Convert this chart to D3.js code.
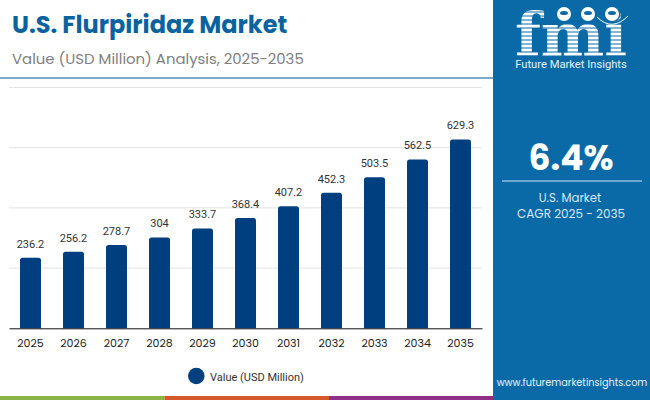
<!DOCTYPE html>
<html>
<head>
    <title>U.S. Flurpiridaz Market</title>
    <script src="https://d3js.org/d3.v7.min.js"></script>
    <style>
        html, body { margin: 0; padding: 0; background: #fff; }
        svg { display: block; font-family: Poppins, "Open Sans", Lato, sans-serif; }
    </style>
</head>
<body>
    <svg id="chart" width="650" height="400"></svg>
    <script>
        // Chart data
        var years = ["2025", "2026", "2027", "2028", "2029", "2030", "2031", "2032", "2033", "2034", "2035"];
        var values = [236.2, 256.2, 278.7, 304, 333.7, 368.4, 407.2, 452.3, 503.5, 562.5, 629.3];
        var gridTicks = [0, 200, 400, 600, 800];

        var svg = d3.select("#chart");

        var x = d3.scaleBand().domain(years).range([9, 482]).paddingInner(0.512).paddingOuter(0.256);
        var y = d3.scaleLinear().domain([0, 800]).range([328.3, 87.5]);

        // Gridlines
        svg.selectAll(".grid").data(gridTicks.slice(1)).enter().append("line")
            .attr("x1", 9).attr("x2", 482)
            .attr("y1", function(d) { return y(d); })
            .attr("y2", function(d) { return y(d); })
            .attr("stroke", "#e4e4e4").attr("stroke-width", 1);

        // Bars, rounded at the top only
        function barPath(d, i) {
            var x0 = x(years[i]), x1 = x0 + x.bandwidth(), top = y(d) + 0.6, r = 2.5;
            var p = d3.path();
            p.moveTo(x0, y(0));
            p.lineTo(x0, top + r);
            p.arcTo(x0, top, x0 + r, top, r);
            p.lineTo(x1 - r, top);
            p.arcTo(x1, top, x1, top + r, r);
            p.lineTo(x1, y(0));
            p.closePath();
            return p.toString();
        }
        svg.selectAll(".bar").data(values).enter().append("path")
            .attr("d", barPath)
            .attr("fill", "#003f7f");

        // Value labels
        svg.selectAll(".val").data(values).enter().append("text")
            .attr("x", function(d, i) { return x(years[i]) + x.bandwidth() / 2; })
            .attr("y", function(d) { return y(d) - 9.5; })
            .attr("text-anchor", "middle")
            .attr("font-family", "Roboto, sans-serif")
            .attr("font-size", 11).attr("fill", "#333")
            .text(function(d) { return d; });

        // X axis
        var xAxis = svg.append("g").attr("transform", "translate(0,328.3)")
            .call(d3.axisBottom(x).tickSize(0).tickPadding(11));
        xAxis.select(".domain").attr("stroke", "#111").attr("stroke-width", 1);
        xAxis.selectAll("text").attr("font-size", 11).attr("fill", "#222")
            .attr("font-family", 'Poppins, "Open Sans", Lato, sans-serif');

        // Legend
        svg.append("circle").attr("cx", 196.3).attr("cy", 376).attr("r", 8.3).attr("fill", "#003f7f");
        svg.append("text").attr("x", 210).attr("y", 381).attr("font-size", 11)
            .attr("font-family", "Roboto, sans-serif").attr("fill", "#333").text("Value (USD Million)");

        // Title
        svg.append("text").attr("x", 12).attr("y", 33).attr("font-size", 24).attr("font-weight", 700)
            .attr("fill", "#0a639f").text("U.S. Flurpiridaz Market");
        svg.append("text").attr("x", 12).attr("y", 63.5).attr("font-size", 14.9)
            .attr("fill", "#808080").text("Value (USD Million) Analysis, 2025-2035");
        svg.append("line").attr("x1", 0).attr("x2", 494).attr("y1", 78).attr("y2", 78)
            .attr("stroke", "#7fa9c9").attr("stroke-width", 2);

        // Right panel
        svg.append("rect").attr("x", 493).attr("y", 0).attr("width", 157).attr("height", 400).attr("fill", "#0a6aa8");

        // Logo: striped letters with three globe badges above
        svg.append("text").attr("x", 571).attr("y", 56).attr("text-anchor", "middle").attr("font-size", 60)
            .attr("font-family", "'DejaVu Serif', serif").attr("font-weight", 700).attr("fill", "#fff").text("fmi");
        d3.range(12, 58, 4).forEach(function(sy) {
            svg.append("line").attr("x1", 512).attr("x2", 630).attr("y1", sy).attr("y2", sy)
                .attr("stroke", "#0a6aa8").attr("stroke-width", 1);
        });
        [564, 588, 612].forEach(function(cx) {
            svg.append("circle").attr("cx", cx).attr("cy", 14).attr("r", 8.5).attr("fill", "#0a6aa8");
            svg.append("circle").attr("cx", cx).attr("cy", 14).attr("r", 7).attr("fill", "#fff");
            svg.append("ellipse").attr("cx", cx).attr("cy", 13).attr("rx", 4).attr("ry", 2)
                .attr("fill", "#0a6aa8");
        });
        svg.append("path").attr("d", "M597 17 Q612 32 628 16").attr("fill", "none")
            .attr("stroke", "#fff").attr("stroke-width", 1);
        svg.append("text").attr("x", 571).attr("y", 67.5).attr("text-anchor", "middle").attr("font-size", 11.2)
            .attr("font-family", "Roboto, sans-serif").attr("fill", "#e6f2fa").text("Future Market Insights");

        // CAGR
        svg.append("text").attr("x", 571).attr("y", 170).attr("text-anchor", "middle").attr("font-size", 34.5)
            .attr("font-weight", 700).attr("fill", "#fff").text("6.4%");
        svg.append("line").attr("x1", 502).attr("x2", 642).attr("y1", 181).attr("y2", 181)
            .attr("stroke", "#8fbcdc").attr("stroke-width", 1.5);
        svg.append("text").attr("x", 570).attr("y", 201.5).attr("text-anchor", "middle").attr("font-size", 11.7)
            .attr("fill", "#d5e8f5").text("U.S. Market");
        svg.append("text").attr("x", 571).attr("y", 218).attr("text-anchor", "middle").attr("font-size", 12)
            .attr("fill", "#d5e8f5").text("CAGR 2025 - 2035");
        svg.append("text").attr("x", 572).attr("y", 386).attr("text-anchor", "middle").attr("font-size", 9.7)
            .attr("fill", "#e6f2fa").text("www.futuremarketinsights.com");

        // Bottom colour strip
        var stripColors = ["#8cb548", "#d4582a", "#8f2f86"];
        svg.selectAll(".strip").data(stripColors).enter().append("rect")
            .attr("x", function(d, i) { return i * 164.5; })
            .attr("y", 396).attr("width", 164.5).attr("height", 4)
            .attr("fill", function(d) { return d; });
    </script>
</body>
</html>
